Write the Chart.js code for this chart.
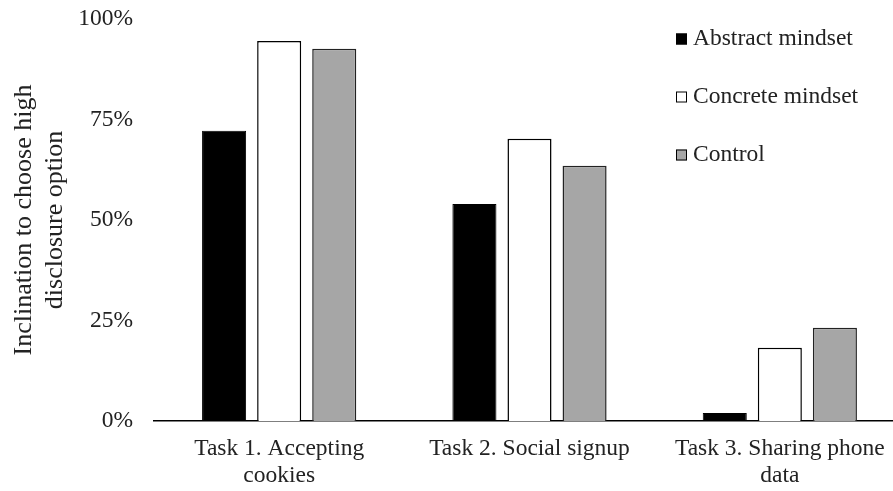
<!DOCTYPE html>
<html>
<head>
<meta charset="utf-8">
<script src="https://cdn.jsdelivr.net/npm/chart.js@4/dist/chart.umd.min.js"></script>
<style>
  html, body { margin: 0; padding: 0; background: #fff; overflow: hidden; }
  #wrap { width: 910px; height: 491px; }
</style>
</head>
<body>
<div id="wrap"><canvas id="grafica" width="910" height="491"></canvas></div>
<script>
var tareas = [['Task 1. Accepting', 'cookies'], ['Task 2. Social signup'], ['Task 3. Sharing phone', 'data']];
var abstracto = [72.2, 54.0, 2.0];
var concreto = [94.5, 70.2, 18.2];
var control = [92.6, 63.5, 23.2];
var marcasY = [0, 25, 50, 75, 100];

var fuente = '"Liberation Serif", "Times New Roman", serif';
var colorTexto = '#222';

// leyenda dibujada a mano, arriba a la derecha
var leyenda = {
    id: 'leyenda',
    afterDraw: function(chart){
        var ctx = chart.ctx;
        ctx.save();
        ctx.font = '23.5px ' + fuente;
        ctx.textBaseline = 'middle';
        ctx.textAlign = 'left';
        chart.data.datasets.forEach(function(ds, i){
            var y = 39 + i * 58;
            ctx.fillStyle = ds.backgroundColor;
            ctx.fillRect(676, y - 5.5, 11, 11);
            ctx.strokeStyle = '#000';
            ctx.lineWidth = 1;
            ctx.strokeRect(676.5, y - 5, 10, 10);
            ctx.fillStyle = colorTexto;
            ctx.fillText(ds.label, 693, y - 0.5);
        });
        ctx.restore();
    }
};

var ctx = document.getElementById('grafica').getContext('2d');
var datos = {
    type: 'bar',
    data: {
        labels: tareas,
        datasets: [{
            label: 'Abstract mindset',
            data: abstracto,
            backgroundColor: '#000000',
            borderColor: '#000000',
            borderWidth: 1
        }, {
            label: 'Concrete mindset',
            data: concreto,
            backgroundColor: '#ffffff',
            borderColor: '#000000',
            borderWidth: 1.5
        }, {
            label: 'Control',
            data: control,
            backgroundColor: '#a6a6a6',
            borderColor: '#222222',
            borderWidth: 1.5
        }]
    },
    options: {
        responsive: false,
        devicePixelRatio: 1,
        animation: false,
        categoryPercentage: 0.66,
        barPercentage: 0.8,
        layout: { padding: { left: 0, top: 19, right: 5, bottom: 0 } },
        plugins: {
            legend: { display: false },
            tooltip: { enabled: false }
        },
        scales: {
            x: {
                grid: { display: false, drawTicks: false },
                border: { display: true, color: '#000', width: 1.5 },
                ticks: {
                    color: colorTexto,
                    padding: 14,
                    maxRotation: 0,
                    autoSkip: false,
                    font: { family: fuente, size: 23.5, lineHeight: 1.15 }
                },
                afterFit: function(eje){
                    eje.height = 70;
                    eje.paddingLeft = 0;
                    eje.paddingRight = 0;
                }
            },
            y: {
                min: 0,
                max: 100,
                grid: { display: false, drawTicks: false },
                border: { display: false },
                afterBuildTicks: function(eje){
                    eje.ticks = marcasY.map(function(v){ return { value: v }; });
                },
                ticks: {
                    color: colorTexto,
                    padding: 21,
                    font: { family: fuente, size: 23.5 },
                    callback: function(v){ return v + '%'; }
                },
                title: {
                    display: true,
                    text: ['Inclination to choose high', 'disclosure option'],
                    color: colorTexto,
                    padding: { top: 9, bottom: 0 },
                    font: { family: fuente, size: 26, lineHeight: 1.19 }
                },
                afterFit: function(eje){
                    eje.width = 154;
                    eje.paddingTop = 0;
                    eje.paddingBottom = 0;
                }
            }
        }
    },
    plugins: [leyenda]
};
var miGrafica = new Chart(ctx, datos);
</script>
</body>
</html>
